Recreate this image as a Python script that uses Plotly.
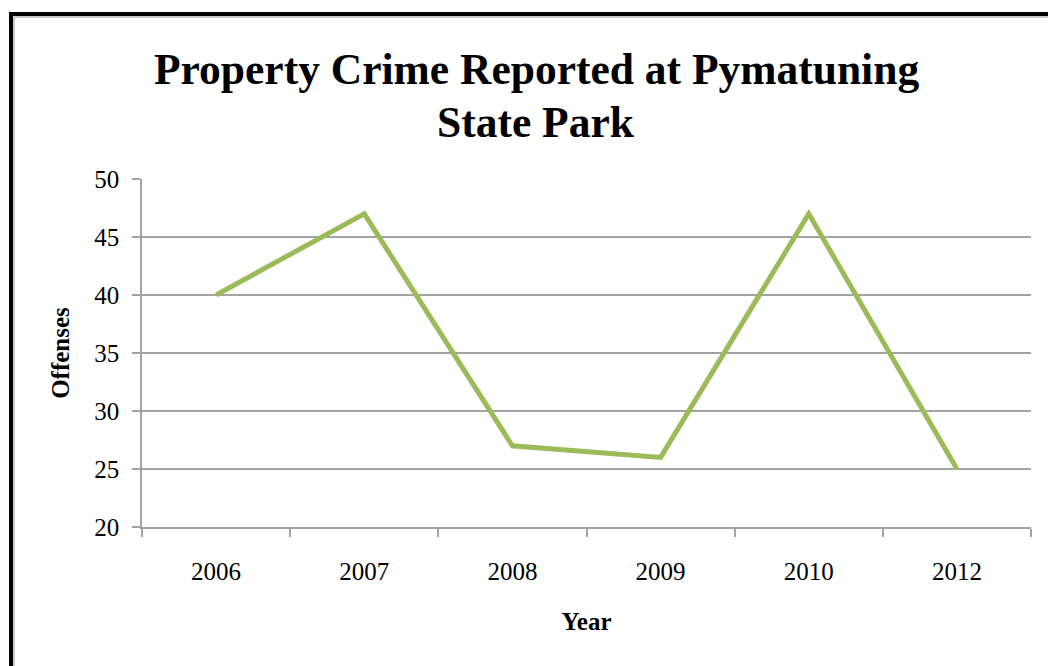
import plotly.graph_objects as go

# Reported property crime offenses by year
years = ["2006", "2007", "2008", "2009", "2010", "2012"]
offenses = [40, 47, 27, 26, 47, 25]

W, H = 1048, 666
L, R, T, B = 142, 1031, 179, 527  # plot area in pixels


def px_x(px):
    return (px - L) / (R - L)


def px_y(py):
    return (B - py) / (B - T)


serif = "Liberation Serif, Times New Roman, serif"
grid = "#a3a3a3"

fig = go.Figure(
    go.Scatter(
        x=years,
        y=offenses,
        mode="lines",
        line=dict(color="#9bbb59", width=5),
        hoverinfo="x+y",
    )
)

fig.update_layout(
    width=W,
    height=H,
    margin=dict(l=L, r=W - R, t=T, b=H - B, autoexpand=False),
    paper_bgcolor="white",
    plot_bgcolor="white",
    showlegend=False,
    font=dict(family=serif, color="black"),
)

fig.update_xaxes(
    type="category",
    range=[-0.5, len(years) - 0.5],
    tickson="boundaries",
    ticks="outside",
    ticklen=8,
    tickcolor=grid,
    tickwidth=1.5,
    showline=True,
    linecolor=grid,
    linewidth=1.5,
    showgrid=False,
    automargin=False,
    tickfont=dict(size=25, family=serif),
    ticklabelstandoff=21,
    title=dict(text="<b>Year</b>", font=dict(size=25, family=serif), standoff=29),
)

fig.update_yaxes(
    range=[20, 50],
    dtick=5,
    ticks="outside",
    ticklen=8,
    tickcolor=grid,
    tickwidth=1.5,
    showline=True,
    linecolor=grid,
    linewidth=1.5,
    showgrid=True,
    gridcolor=grid,
    gridwidth=1.5,
    zeroline=False,
    automargin=False,
    tickfont=dict(size=25, family=serif),
    ticklabelstandoff=8,
    title=dict(text="<b>Offenses</b>", font=dict(size=25, family=serif), standoff=18),
)

# Two-line chart title
for text, cy in [("Property Crime Reported at Pymatuning", 69), ("State Park", 122)]:
    fig.add_annotation(
        text=f"<b>{text}</b>",
        xref="paper",
        yref="paper",
        x=px_x(536),
        y=px_y(cy),
        xanchor="center",
        yanchor="middle",
        showarrow=False,
        font=dict(size=43.5, family=serif, color="black"),
    )

# Outer frame (left and top edges)
fig.add_shape(type="line", xref="paper", yref="paper",
              x0=px_x(11), y0=px_y(14), x1=px_x(11), y1=px_y(700),
              line=dict(color="black", width=4))
fig.add_shape(type="line", xref="paper", yref="paper",
              x0=px_x(9), y0=px_y(14), x1=px_x(1100), y1=px_y(14),
              line=dict(color="black", width=4))
fig.add_shape(type="line", xref="paper", yref="paper",
              x0=px_x(14), y0=px_y(17), x1=px_x(14), y1=px_y(700),
              line=dict(color="#c8c8c8", width=2))
fig.add_shape(type="line", xref="paper", yref="paper",
              x0=px_x(14), y0=px_y(17), x1=px_x(1100), y1=px_y(17),
              line=dict(color="#c8c8c8", width=2))

fig.write_html("out.html")
